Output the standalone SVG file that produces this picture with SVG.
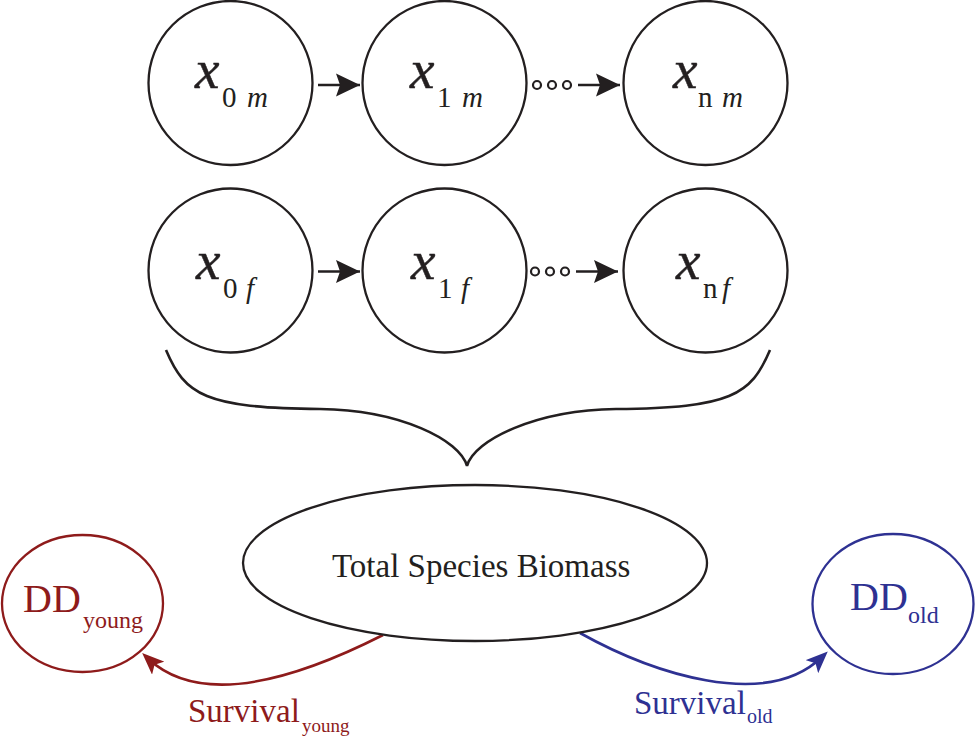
<svg xmlns="http://www.w3.org/2000/svg" width="975" height="744" viewBox="0 0 975 744">
<style>
.node{fill:#fff;stroke:#231f20;stroke-width:2.3}
.dot{fill:#fff;stroke:#231f20;stroke-width:2.2}
.serif{font-family:"Liberation Serif","Times New Roman",serif;fill:#231f20}
.var{font-size:55px;font-style:italic;stroke:#231f20;stroke-width:0.5}
.sub{font-size:29px}
.it{font-style:italic}
.red{fill:#8e1b1b}
.blue{fill:#2e3192}
</style>
<defs>
<marker id="ah" viewBox="0 0 24 24" refX="24" refY="12" markerWidth="24" markerHeight="24" markerUnits="userSpaceOnUse" orient="auto">
<path d="M0,0.5 L24,12 L0,23.5 L4,12 z" fill="#231f20"/>
</marker>
<marker id="ahR" viewBox="0 0 22 18" refX="14" refY="9" markerWidth="22" markerHeight="18" markerUnits="userSpaceOnUse" orient="auto">
<path d="M0,0 L22,9 L0,18 L5,9 z" fill="#8e1b1b"/>
</marker>
<marker id="ahB" viewBox="0 0 22 18" refX="14" refY="9" markerWidth="22" markerHeight="18" markerUnits="userSpaceOnUse" orient="auto">
<path d="M0,0 L22,9 L0,18 L5,9 z" fill="#2e3192"/>
</marker>
</defs>

<g id="connectors" fill="none">
<line x1="318" y1="85" x2="360" y2="85" stroke="#231f20" stroke-width="2.5" marker-end="url(#ah)"/>
<line x1="578" y1="85" x2="620" y2="85" stroke="#231f20" stroke-width="2.5" marker-end="url(#ah)"/>
<line x1="318" y1="271.5" x2="360" y2="271.5" stroke="#231f20" stroke-width="2.5" marker-end="url(#ah)"/>
<line x1="576" y1="271.5" x2="618" y2="271.5" stroke="#231f20" stroke-width="2.5" marker-end="url(#ah)"/>
<circle class="dot" cx="537" cy="85" r="4"/>
<circle class="dot" cx="552" cy="85" r="4"/>
<circle class="dot" cx="567" cy="85" r="4"/>
<circle class="dot" cx="535" cy="271.5" r="4"/>
<circle class="dot" cx="550" cy="271.5" r="4"/>
<circle class="dot" cx="565" cy="271.5" r="4"/>
<path id="brace" d="M166,350 C185,395 205,408 320,409 C400,410 460,440 467,466 M770,350 C751,395 731,408 616,409 C536,410 474,440 467,466" stroke="#231f20" stroke-width="2.6"/>
<path id="survival-young" d="M383,635 C310,672 205,712 148,658.5" stroke="#8e1b1b" stroke-width="2.6" marker-end="url(#ahR)"/>
<path id="survival-old" d="M580,633 C650,672 765,712 822,657" stroke="#2e3192" stroke-width="2.6" marker-end="url(#ahB)"/>
</g>

<g id="x0m">
<circle class="node" cx="230.5" cy="83" r="82"/>
<text class="serif" y="88"><tspan class="var" x="195">x</tspan><tspan class="sub" x="222" y="107">0</tspan><tspan class="sub it" x="247" y="107">m</tspan></text>
</g>
<g id="x1m">
<circle class="node" cx="444.5" cy="83" r="82"/>
<text class="serif" y="88"><tspan class="var" x="410">x</tspan><tspan class="sub" x="437" y="107">1</tspan><tspan class="sub it" x="462" y="107">m</tspan></text>
</g>
<g id="xnm">
<circle class="node" cx="705.5" cy="83" r="82"/>
<text class="serif" y="88"><tspan class="var" x="673">x</tspan><tspan class="sub" x="698" y="107">n</tspan><tspan class="sub it" x="722" y="107">m</tspan></text>
</g>
<g id="x0f">
<circle class="node" cx="230.5" cy="270.5" r="82"/>
<text class="serif" y="279"><tspan class="var" x="196">x</tspan><tspan class="sub" x="223" y="298">0</tspan><tspan class="sub it" x="246" y="298">f</tspan></text>
</g>
<g id="x1f">
<circle class="node" cx="444.5" cy="270.5" r="82"/>
<text class="serif" y="279"><tspan class="var" x="411">x</tspan><tspan class="sub" x="438" y="298">1</tspan><tspan class="sub it" x="461" y="298">f</tspan></text>
</g>
<g id="xnf">
<circle class="node" cx="705.5" cy="270.5" r="82"/>
<text class="serif" y="279"><tspan class="var" x="676">x</tspan><tspan class="sub" x="703" y="298">n</tspan><tspan class="sub it" x="722" y="298">f</tspan></text>
</g>

<g id="biomass">
<ellipse class="node" cx="475" cy="563" rx="232" ry="78"/>
<text class="serif" x="332" y="577" font-size="33">Total Species Biomass</text>
</g>

<g id="dd-young">
<ellipse cx="82.5" cy="603.5" rx="80.5" ry="68.5" fill="#fff" stroke="#8e1b1b" stroke-width="2.3"/>
<text class="serif red" x="23" y="612" font-size="40">DD<tspan x="83" y="628" font-size="24">young</tspan></text>
</g>
<g id="dd-old">
<ellipse cx="893" cy="604" rx="80.5" ry="70" fill="#fff" stroke="#2e3192" stroke-width="2.3"/>
<text class="serif blue" x="850" y="610" font-size="40">DD<tspan x="908" y="623" font-size="24">old</tspan></text>
</g>

<g id="labels">
<text class="serif red" x="188" y="722" font-size="33">Survival<tspan x="302" y="732" font-size="19">young</tspan></text>
<text class="serif blue" x="634" y="714" font-size="33">Survival<tspan x="747" y="723" font-size="20">old</tspan></text>
</g>
</svg>
